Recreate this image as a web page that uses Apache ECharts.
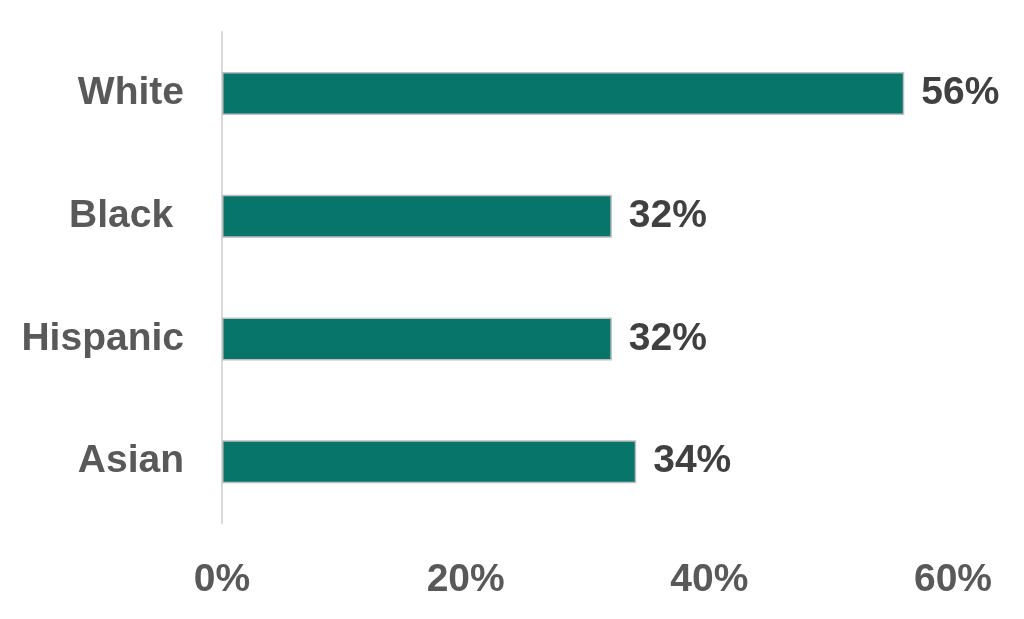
<!DOCTYPE html>
<html>
<head>
<meta charset="utf-8">
<script src="https://cdn.jsdelivr.net/npm/echarts@6/dist/echarts.min.js"></script>
<style>
html,body{margin:0;padding:0;background:#fff;}
#chart{width:1024px;height:619px;}
</style>
</head>
<body>
<div id="chart"></div>
<script>
var categories = ['White', 'Black ', 'Hispanic', 'Asian'];
var values = [56, 32, 32, 34];
var xTicks = [0, 20, 40, 60];

var chart = echarts.init(document.getElementById('chart'));
var font = '"Liberation Sans", Arial, sans-serif';
chart.setOption({
  animation: false,
  grid: {left: 222, right: 71, top: 32, bottom: 96, containLabel: false},
  xAxis: {
    type: 'value',
    min: xTicks[0],
    max: xTicks[xTicks.length - 1],
    interval: 20,
    axisLine: {show: false},
    axisTick: {show: false},
    splitLine: {show: false},
    axisLabel: {
      formatter: '{value}%',
      color: '#595959',
      fontFamily: font,
      fontWeight: 'bold',
      fontSize: 39,
      margin: 38
    }
  },
  yAxis: {
    type: 'category',
    inverse: true,
    data: categories,
    axisLine: {show: true, lineStyle: {color: '#d9d9d9', width: 2}},
    axisTick: {show: false},
    axisLabel: {
      color: '#595959',
      fontFamily: font,
      fontWeight: 'bold',
      fontSize: 39,
      margin: 38,
      padding: [4, 0, 0, 0]
    }
  },
  series: [{
    type: 'bar',
    data: values,
    barWidth: 43,
    itemStyle: {color: '#08756B', borderColor: '#bfbfbf', borderWidth: 1.5},
    label: {
      show: true,
      position: 'right',
      distance: 17,
      formatter: '{c}%',
      color: '#404040',
      fontFamily: font,
      fontWeight: 'bold',
      fontSize: 39,
      padding: [4, 0, 0, 0]
    }
  }]
});
</script>
</body>
</html>
